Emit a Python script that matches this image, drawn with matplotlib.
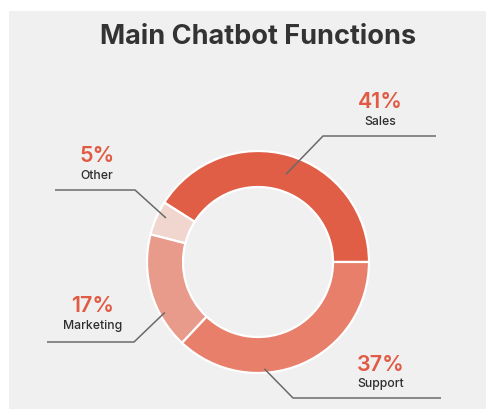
import matplotlib
matplotlib.use("Agg")
import matplotlib.pyplot as plt
from matplotlib.patches import Rectangle
import numpy as np

categories = ["Sales", "Other", "Marketing", "Support"]
shares = [41, 5, 17, 37]
colors = ["#e05e45", "#f1d5cf", "#e89a8b", "#e77f6b"]

W, H = 486, 410
fig = plt.figure(figsize=(W / 100, H / 100), dpi=100)
fig.patch.set_facecolor("white")
ax = fig.add_axes([0, 0, 1, 1])

cx, cy = 258, 147
r_out, ring = 111, 36
wedges, _ = ax.pie(shares, colors=colors, startangle=0, counterclock=True,
                   center=(cx, cy), radius=r_out,
                   wedgeprops=dict(width=ring, edgecolor="white", linewidth=1.6),
                   frame=True)
ax.set_xlim(0, W)
ax.set_ylim(0, H)
ax.set_aspect("equal", adjustable="box")
ax.axis("off")

# grey card behind the chart
ax.add_patch(Rectangle((9, -5), W, H - 12 + 5, facecolor="#f0f0f0",
                       edgecolor="none", zorder=0))

# callout layout: position along wedge (fraction), anchor radius, elbow, line end, text x
layout = {
    "Sales":     dict(frac=0.49, rad=92,  elbow=(323, 273), end=(436, 273), tx=380.5, pct_y=302, name_y=285),
    "Other":     dict(frac=0.38, rad=102, elbow=(135, 219), end=(55, 219),  tx=97,    pct_y=248, name_y=231),
    "Marketing": dict(frac=0.70, rad=106, elbow=(134, 67),  end=(47, 67),   tx=92.5,  pct_y=98,  name_y=81),
    "Support":   dict(frac=0.35, rad=107, elbow=(293, 11),  end=(441, 11),  tx=380.5, pct_y=39,  name_y=23),
}

font = "Inter"
for w, name, val in zip(wedges, categories, shares):
    L = layout[name]
    ang = np.deg2rad(w.theta1 + L["frac"] * (w.theta2 - w.theta1))
    ax0, ay0 = cx + L["rad"] * np.cos(ang), cy + L["rad"] * np.sin(ang)
    xs = [ax0, L["elbow"][0], L["end"][0]]
    ys = [ay0, L["elbow"][1], L["end"][1]]
    ax.plot(xs, ys, color="#6a6a6a", lw=1.1, solid_capstyle="butt", zorder=5)
    ax.text(L["tx"], L["pct_y"], f"{val}%", ha="center", va="baseline",
            fontsize=15.5, fontweight="semibold", color="#e05a44", family=font)
    ax.text(L["tx"], L["name_y"], name, ha="center", va="baseline",
            fontsize=8.8, fontweight="medium", color="#2e2e2e", family=font)

ax.text(258, 366, "Main Chatbot Functions", ha="center", va="baseline",
        fontsize=19.5, fontweight="bold", color="#333333", family=font)

fig.savefig("out.png", dpi=100, facecolor=fig.get_facecolor())
